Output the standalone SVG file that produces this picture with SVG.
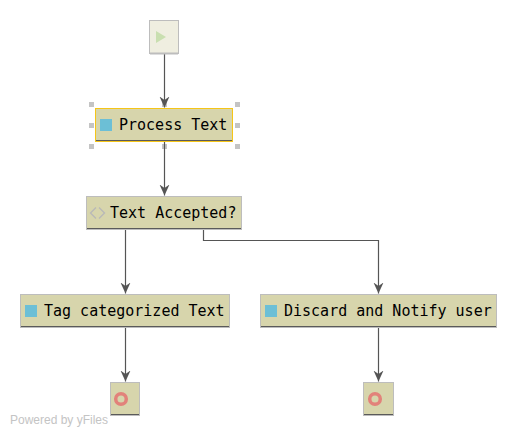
<svg xmlns="http://www.w3.org/2000/svg" width="517" height="436" viewBox="0 0 517 436">
<defs>
<style>
.n{fill:#d7d5ac;stroke:#bdbdbd;stroke-width:1}
.b{stroke:#5a5a5a;stroke-width:1;fill:none}
.t{font-family:"DejaVu Sans Mono",monospace;font-size:15px;fill:#000}
.i{fill:#6cbfd6}
.c{stroke:#555;stroke-width:1.200;fill:none;marker-end:url(#a)}
.h{fill:#c4c4c4}
.e{fill:none;stroke:#e2827a;stroke-width:3.5}
</style>
<marker id="a" markerUnits="userSpaceOnUse" markerWidth="13" markerHeight="12" refX="11" refY="5.500" orient="auto">
<path d="M0,0.500L11,5.500L0,10.500L3.500,5.500Z" fill="#555"/>
</marker>
</defs>
<rect width="517" height="436" fill="#fff"/>
<g id="process-handles" class="h">
<rect x="89" y="102" width="5" height="5"/><rect x="162" y="102" width="5" height="5"/><rect x="235" y="102" width="5" height="5"/>
<rect x="89" y="123" width="5" height="5"/><rect x="235" y="123" width="5" height="5"/>
<rect x="89" y="144" width="5" height="5"/><rect x="162" y="144" width="5" height="5"/><rect x="235" y="144" width="5" height="5"/>
</g>
<g id="connectors">
<path class="c" d="M164.500 54V107.500"/>
<path class="c" d="M164.500 142V195.500"/>
<path class="c" d="M125.500 230V293.500"/>
<path class="c" d="M203.500 230V240.500H378.500V293.500"/>
<path class="c" d="M125.500 328V381.500"/>
<path class="c" d="M378.500 328V381.500"/>
</g>
<g id="start">
<rect x="149.500" y="20.500" width="29" height="33" fill="#efeee0" stroke="#bdbdbd"/>
<path d="M156 31V43L166 37Z" fill="#c9dfb0"/>
<path d="M150 53.500H178" stroke="#bdbdbd" stroke-width="2"/>
</g>
<g id="process-text">
<rect class="n" x="95.500" y="108.500" width="137" height="33" style="stroke:#f5c518"/>
<path class="b" d="M96 140.500H232"/>
<rect class="i" x="100" y="119" width="12" height="12"/>
<text class="t" x="119" y="130">Process Text</text>
</g>
<g id="text-accepted">
<rect class="n" x="86.500" y="196.500" width="155" height="33"/>
<path class="b" d="M87 228.500H241"/>
<path d="M96 207.500L90.500 213L96 218.500M99 207.500L104.500 213L99 218.500" fill="none" stroke="#b8b8b8" stroke-width="1.300"/>
<text class="t" x="110" y="218">Text Accepted?</text>
</g>
<g id="tag-text">
<rect class="n" x="20.500" y="294.500" width="209" height="33"/>
<path class="b" d="M21 326.500H229"/>
<rect class="i" x="25" y="305" width="12" height="12"/>
<text class="t" x="44" y="316">Tag categorized Text</text>
</g>
<g id="discard">
<rect class="n" x="260.500" y="294.500" width="236" height="33"/>
<path class="b" d="M261 326.500H496"/>
<rect class="i" x="265" y="305" width="12" height="12"/>
<text class="t" x="284" y="316">Discard and Notify user</text>
</g>
<g id="end-1">
<rect class="n" x="110.500" y="382.500" width="29" height="33"/>
<path class="b" d="M111 414.500H139"/>
<circle class="e" cx="121" cy="399" r="5.300"/>
</g>
<g id="end-2">
<rect class="n" x="363.500" y="382.500" width="30" height="33"/>
<path class="b" d="M364 414.500H393"/>
<circle class="e" cx="375" cy="399" r="5.300"/>
</g>
<text x="10" y="424" font-family="Liberation Sans,sans-serif" font-size="12px" fill="#c4c4c4">Powered by yFiles</text>
</svg>
